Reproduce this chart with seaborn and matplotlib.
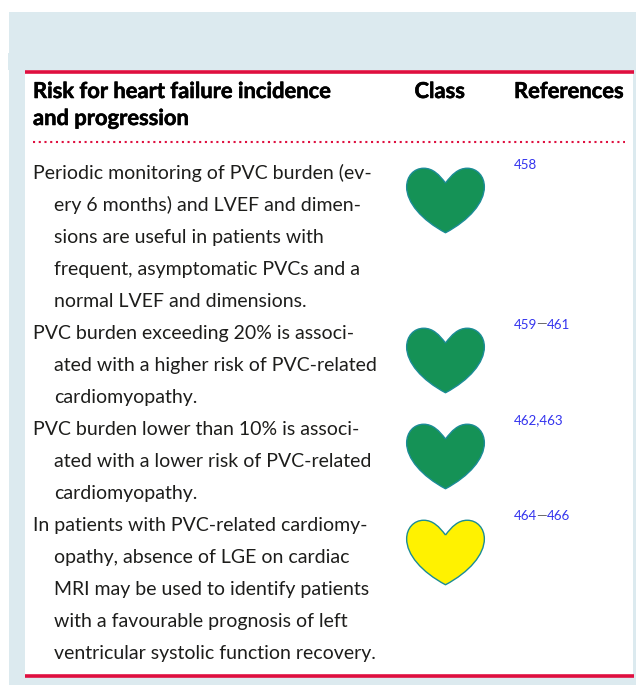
import matplotlib.pyplot as plt
import matplotlib.patheffects as pe
import pandas as pd
import seaborn as sns
from matplotlib.patches import Rectangle
from matplotlib.path import Path

sns.set_style('white')
plt.rcParams['font.family'] = ['Lato', 'DejaVu Sans']

# Table content
header_title = ['Risk for heart failure incidence', 'and progression']
header_class = 'Class'
header_refs = 'References'
rows = [
    ['Periodic monitoring of PVC burden (ev-', 'ery 6 months) and LVEF and dimen-',
     'sions are useful in patients with', 'frequent, asymptomatic PVCs and a',
     'normal LVEF and dimensions.'],
    ['PVC burden exceeding 20% is associ-', 'ated with a higher risk of PVC-related',
     'cardiomyopathy.'],
    ['PVC burden lower than 10% is associ-', 'ated with a lower risk of PVC-related',
     'cardiomyopathy.'],
    ['In patients with PVC-related cardiomy-', 'opathy, absence of LGE on cardiac',
     'MRI may be used to identify patients', 'with a favourable prognosis of left',
     'ventricular systolic function recovery.'],
]
classes = ['I', 'I', 'I', 'IIa']
refs = ['458', '459–461', '462,463', '464–466']

class_colors = {'I': '#159256', 'IIa': '#FFF200'}
RED = '#DF0F3F'
PANEL = '#DCEAEF'
TEXT = '#1d1d1b'
BLUE = '#3333EE'

# Heart marker, half width = 1
C4 = Path.CURVE4
heart = Path(
    [(0, 0.45),
     (-0.16, 0.66), (-0.32, 0.83), (-0.56, 0.83),
     (-0.82, 0.83), (-1, 0.62), (-1, 0.35),
     (-1, -0.05), (-0.62, -0.5), (0, -0.83),
     (0.62, -0.5), (1, -0.05), (1, 0.35),
     (1, 0.62), (0.82, 0.83), (0.56, 0.83),
     (0.32, 0.83), (0.16, 0.66), (0, 0.45)],
    [Path.MOVETO] + [C4] * 18,
)

fig = plt.figure(figsize=(6.36, 6.85), dpi=100)
ax = fig.add_axes([0, 0, 1, 1])
ax.set_xlim(0, 636)
ax.set_ylim(685, 0)
ax.axis('off')

# Background panel
ax.add_patch(Rectangle((9, 12), 627, 673, color=PANEL, lw=0))
ax.add_patch(Rectangle((8, 53), 2, 17, color=PANEL, lw=0))
ax.add_patch(Rectangle((25, 70), 608, 607, color='white', lw=0))
ax.hlines([71.5, 675.5], 25, 634, color=RED, lw=2.6)
ax.plot([33, 625], [142, 142], color=RED, lw=1.5, ls=(0, (1, 1.75)))

# Header, Lato bold is a bit light so thicken it slightly
thick = [pe.withStroke(linewidth=0.4, foreground='black')]
for i, line in enumerate(header_title):
    ax.text(33, 98 + 27 * i, line, fontsize=15.8, fontweight='bold', color='black',
            va='baseline', path_effects=thick)
ax.text(414.5, 98, header_class, fontsize=15.8, fontweight='bold', color='black',
        va='baseline', path_effects=thick)
ax.text(514, 98, header_refs, fontsize=15.8, fontweight='bold', color='black',
        va='baseline', path_effects=thick)

# Body, every text line sits on a 32 px grid
line_no = 0
first_lines = []
for row in rows:
    first_lines.append(line_no)
    for j, line in enumerate(row):
        ax.text(33 if j == 0 else 54, 179 + 32 * line_no, line, fontsize=14.0,
                color=TEXT, va='baseline')
        line_no += 1

renderer = fig.canvas.get_renderer()
for first, ref in zip(first_lines, refs):
    y = 168.5 + 32 * first
    x = 514
    parts = ref.split('–')
    for k, part in enumerate(parts):
        t = ax.text(x, y, part, fontsize=9.6, color=BLUE, va='baseline')
        x = ax.transData.inverted().transform(t.get_window_extent(renderer))[1][0]
        if k < len(parts) - 1:
            t = ax.text(x - 1, y, '—', fontsize=9.6, color='#666666', va='baseline')
            x = ax.transData.inverted().transform(t.get_window_extent(renderer))[1][0]

# Class hearts
df = pd.DataFrame({'cls': classes,
                   'x': [445.5] * len(classes),
                   'y': [200.5 + 32 * f for f in first_lines]})
sns.scatterplot(data=df, x='x', y='y', hue='cls', palette=class_colors, marker=heart,
                s=3130, edgecolor='#1B8C96', linewidth=1.0, legend=False, ax=ax, clip_on=False)
ax.set_xlabel('')
ax.set_ylabel('')

fig.savefig('out.png', dpi=100)
